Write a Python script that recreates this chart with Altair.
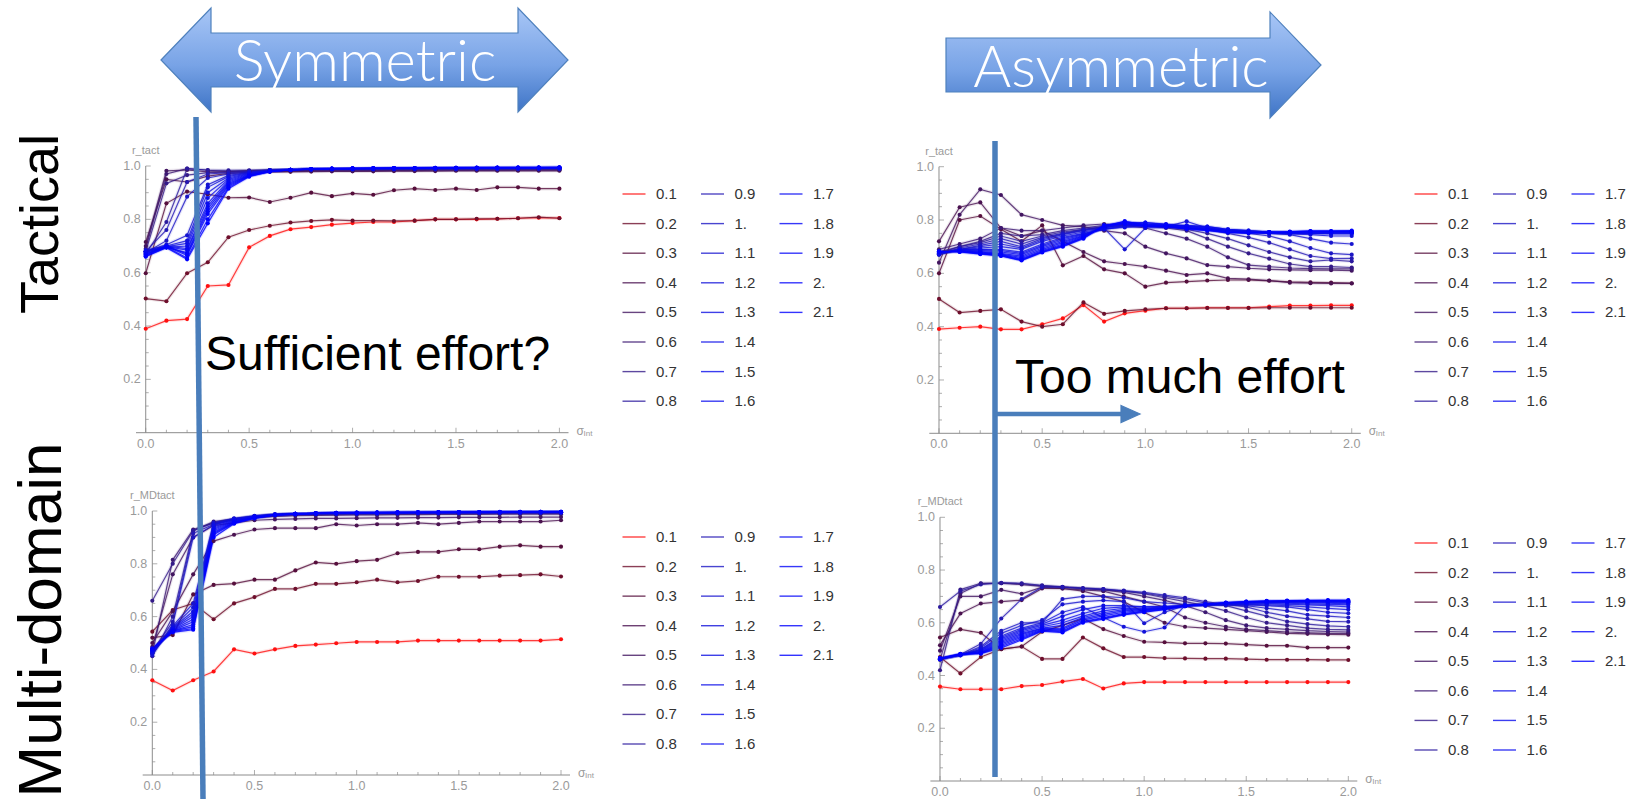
import altair as alt
import pandas as pd

# ---------------- data ----------------
X = [0.0, 0.1, 0.2, 0.3, 0.4, 0.5, 0.6, 0.7, 0.8, 0.9, 1.0,
     1.1, 1.2, 1.3, 1.4, 1.5, 1.6, 1.7, 1.8, 1.9, 2.0]

LABELS = ["0.1", "0.2", "0.3", "0.4", "0.5", "0.6", "0.7", "0.8", "0.9", "1.",
          "1.1", "1.2", "1.3", "1.4", "1.5", "1.6", "1.7", "1.8", "1.9", "2.", "2.1"]

COLORS = ["#ff1010", "#6e0f2c", "#560f3c", "#4a1250", "#421560", "#3c1872", "#341a88",
          "#2c1a9e", "#2418b4", "#1c16c4", "#1614d0", "#1212da", "#0e10e2", "#0c0ee8",
          "#0a0cec", "#080af0", "#0608f4", "#0406f7", "#0304fa", "#0202fc", "#0000ff"]

# Tactical, symmetric
tact_sym = [
    [0.39, 0.42, 0.426, 0.55, 0.554, 0.695, 0.738, 0.763, 0.771, 0.78, 0.786, 0.79, 0.79, 0.795, 0.80, 0.80, 0.80, 0.802, 0.804, 0.806, 0.805],
    [0.503, 0.493, 0.598, 0.639, 0.733, 0.76, 0.776, 0.788, 0.794, 0.798, 0.795, 0.795, 0.794, 0.795, 0.80, 0.80, 0.802, 0.802, 0.804, 0.808, 0.804],
    [0.598, 0.86, 0.904, 0.894, 0.881, 0.882, 0.865, 0.881, 0.90, 0.887, 0.897, 0.892, 0.909, 0.915, 0.91, 0.915, 0.91, 0.92, 0.92, 0.915, 0.915],
    [0.715, 0.95, 0.94, 0.962, 0.972, 0.976, 0.978, 0.978, 0.979, 0.98, 0.98, 0.98, 0.981, 0.981, 0.981, 0.982, 0.982, 0.982, 0.982, 0.982, 0.982],
    [0.70, 0.982, 0.985, 0.978, 0.978, 0.98, 0.981, 0.981, 0.982, 0.982, 0.982, 0.983, 0.983, 0.983, 0.984, 0.984, 0.984, 0.984, 0.984, 0.984, 0.984],
    [0.69, 0.97, 0.99, 0.984, 0.98, 0.982, 0.983, 0.984, 0.984, 0.985, 0.985, 0.985, 0.985, 0.986, 0.986, 0.986, 0.986, 0.986, 0.987, 0.987, 0.987],
    [0.68, 0.935, 0.966, 0.975, 0.978, 0.982, 0.984, 0.985, 0.985, 0.986, 0.986, 0.986, 0.987, 0.987, 0.987, 0.987, 0.988, 0.988, 0.988, 0.988, 0.988],
    [0.67, 0.79, 0.99, 0.985, 0.984, 0.984, 0.985, 0.986, 0.987, 0.987, 0.987, 0.988, 0.988, 0.988, 0.988, 0.989, 0.989, 0.989, 0.989, 0.989, 0.989],
    [0.68, 0.76, 0.94, 0.97, 0.975, 0.98, 0.985, 0.986, 0.987, 0.988, 0.988, 0.988, 0.989, 0.989, 0.989, 0.989, 0.99, 0.99, 0.99, 0.99, 0.99],
    [0.675, 0.72, 0.885, 0.955, 0.97, 0.978, 0.984, 0.986, 0.987, 0.988, 0.989, 0.989, 0.989, 0.99, 0.99, 0.99, 0.99, 0.99, 0.99, 0.991, 0.991],
    [0.68, 0.705, 0.74, 0.93, 0.965, 0.976, 0.984, 0.986, 0.988, 0.988, 0.989, 0.989, 0.99, 0.99, 0.99, 0.99, 0.991, 0.991, 0.991, 0.991, 0.991],
    [0.685, 0.70, 0.72, 0.92, 0.96, 0.975, 0.983, 0.986, 0.988, 0.989, 0.989, 0.99, 0.99, 0.99, 0.991, 0.991, 0.991, 0.991, 0.992, 0.992, 0.992],
    [0.68, 0.698, 0.71, 0.90, 0.955, 0.973, 0.983, 0.986, 0.988, 0.989, 0.99, 0.99, 0.99, 0.991, 0.991, 0.991, 0.991, 0.992, 0.992, 0.992, 0.992],
    [0.678, 0.695, 0.70, 0.88, 0.95, 0.972, 0.982, 0.986, 0.988, 0.989, 0.99, 0.99, 0.991, 0.991, 0.991, 0.992, 0.992, 0.992, 0.992, 0.992, 0.993],
    [0.676, 0.70, 0.69, 0.86, 0.945, 0.97, 0.982, 0.986, 0.988, 0.989, 0.99, 0.99, 0.991, 0.991, 0.992, 0.992, 0.992, 0.992, 0.993, 0.993, 0.993],
    [0.672, 0.698, 0.685, 0.85, 0.94, 0.968, 0.981, 0.986, 0.988, 0.989, 0.99, 0.991, 0.991, 0.991, 0.992, 0.992, 0.992, 0.993, 0.993, 0.993, 0.993],
    [0.67, 0.695, 0.675, 0.84, 0.935, 0.966, 0.98, 0.985, 0.988, 0.989, 0.99, 0.991, 0.991, 0.992, 0.992, 0.992, 0.993, 0.993, 0.993, 0.993, 0.994],
    [0.668, 0.70, 0.67, 0.83, 0.93, 0.965, 0.98, 0.985, 0.988, 0.989, 0.99, 0.991, 0.991, 0.992, 0.992, 0.993, 0.993, 0.993, 0.993, 0.994, 0.994],
    [0.665, 0.698, 0.665, 0.82, 0.925, 0.963, 0.98, 0.985, 0.988, 0.99, 0.99, 0.991, 0.992, 0.992, 0.992, 0.993, 0.993, 0.993, 0.994, 0.994, 0.994],
    [0.662, 0.696, 0.655, 0.80, 0.92, 0.962, 0.979, 0.985, 0.988, 0.99, 0.991, 0.991, 0.992, 0.992, 0.993, 0.993, 0.993, 0.994, 0.994, 0.994, 0.994],
    [0.66, 0.694, 0.65, 0.785, 0.915, 0.96, 0.979, 0.985, 0.988, 0.99, 0.991, 0.991, 0.992, 0.992, 0.993, 0.993, 0.994, 0.994, 0.994, 0.994, 0.995],
]

# Multi-domain, symmetric
md_sym = [
    [0.359, 0.32, 0.359, 0.392, 0.476, 0.46, 0.476, 0.489, 0.494, 0.499, 0.504, 0.504, 0.504, 0.509, 0.509, 0.509, 0.509, 0.509, 0.509, 0.509, 0.514],
    [0.543, 0.625, 0.65, 0.59, 0.65, 0.674, 0.705, 0.705, 0.724, 0.724, 0.73, 0.74, 0.73, 0.735, 0.751, 0.751, 0.751, 0.755, 0.757, 0.76, 0.752],
    [0.52, 0.53, 0.684, 0.72, 0.725, 0.74, 0.74, 0.775, 0.805, 0.80, 0.81, 0.815, 0.84, 0.845, 0.845, 0.855, 0.855, 0.865, 0.87, 0.865, 0.865],
    [0.50, 0.62, 0.76, 0.886, 0.91, 0.93, 0.935, 0.935, 0.935, 0.95, 0.945, 0.95, 0.95, 0.955, 0.95, 0.955, 0.96, 0.96, 0.96, 0.96, 0.965],
    [0.486, 0.76, 0.90, 0.945, 0.955, 0.965, 0.968, 0.97, 0.972, 0.972, 0.973, 0.974, 0.974, 0.975, 0.975, 0.976, 0.976, 0.976, 0.977, 0.977, 0.977],
    [0.46, 0.815, 0.93, 0.955, 0.968, 0.975, 0.98, 0.982, 0.983, 0.984, 0.985, 0.985, 0.986, 0.986, 0.987, 0.987, 0.987, 0.988, 0.988, 0.988, 0.988],
    [0.66, 0.80, 0.925, 0.96, 0.97, 0.978, 0.985, 0.987, 0.988, 0.989, 0.99, 0.99, 0.99, 0.991, 0.991, 0.991, 0.992, 0.992, 0.992, 0.992, 0.992],
    [0.45, 0.60, 0.925, 0.955, 0.968, 0.976, 0.984, 0.987, 0.988, 0.989, 0.99, 0.99, 0.991, 0.991, 0.991, 0.992, 0.992, 0.992, 0.993, 0.993, 0.993],
    [0.47, 0.58, 0.915, 0.95, 0.97, 0.98, 0.986, 0.988, 0.989, 0.99, 0.99, 0.991, 0.991, 0.992, 0.992, 0.992, 0.993, 0.993, 0.993, 0.993, 0.994],
    [0.46, 0.57, 0.90, 0.948, 0.968, 0.979, 0.986, 0.988, 0.989, 0.99, 0.991, 0.991, 0.992, 0.992, 0.992, 0.993, 0.993, 0.993, 0.994, 0.994, 0.994],
    [0.455, 0.565, 0.65, 0.955, 0.972, 0.982, 0.987, 0.989, 0.99, 0.991, 0.991, 0.992, 0.992, 0.993, 0.993, 0.993, 0.994, 0.994, 0.994, 0.994, 0.995],
    [0.46, 0.56, 0.635, 0.95, 0.97, 0.981, 0.987, 0.989, 0.99, 0.991, 0.992, 0.992, 0.993, 0.993, 0.993, 0.994, 0.994, 0.994, 0.995, 0.995, 0.995],
    [0.465, 0.558, 0.62, 0.945, 0.968, 0.98, 0.987, 0.989, 0.991, 0.991, 0.992, 0.993, 0.993, 0.993, 0.994, 0.994, 0.994, 0.995, 0.995, 0.995, 0.995],
    [0.468, 0.555, 0.61, 0.94, 0.966, 0.979, 0.986, 0.989, 0.991, 0.992, 0.992, 0.993, 0.993, 0.994, 0.994, 0.994, 0.995, 0.995, 0.995, 0.995, 0.996],
    [0.47, 0.553, 0.60, 0.935, 0.964, 0.978, 0.986, 0.989, 0.991, 0.992, 0.993, 0.993, 0.994, 0.994, 0.994, 0.995, 0.995, 0.995, 0.995, 0.996, 0.996],
    [0.472, 0.55, 0.59, 0.93, 0.962, 0.977, 0.986, 0.989, 0.991, 0.992, 0.993, 0.993, 0.994, 0.994, 0.995, 0.995, 0.995, 0.995, 0.996, 0.996, 0.996],
    [0.474, 0.548, 0.58, 0.925, 0.96, 0.976, 0.985, 0.989, 0.991, 0.992, 0.993, 0.994, 0.994, 0.994, 0.995, 0.995, 0.995, 0.996, 0.996, 0.996, 0.996],
    [0.475, 0.546, 0.57, 0.92, 0.958, 0.975, 0.985, 0.989, 0.991, 0.992, 0.993, 0.994, 0.994, 0.995, 0.995, 0.995, 0.996, 0.996, 0.996, 0.996, 0.997],
    [0.477, 0.545, 0.562, 0.915, 0.956, 0.974, 0.985, 0.988, 0.991, 0.993, 0.993, 0.994, 0.994, 0.995, 0.995, 0.996, 0.996, 0.996, 0.996, 0.997, 0.997],
    [0.478, 0.543, 0.555, 0.91, 0.954, 0.973, 0.984, 0.988, 0.991, 0.993, 0.994, 0.994, 0.995, 0.995, 0.995, 0.996, 0.996, 0.996, 0.997, 0.997, 0.997],
    [0.48, 0.54, 0.55, 0.90, 0.952, 0.972, 0.984, 0.988, 0.991, 0.993, 0.994, 0.994, 0.995, 0.995, 0.996, 0.996, 0.996, 0.997, 0.997, 0.997, 0.997],
]

# Tactical, asymmetric
tact_asym = [
    [0.391, 0.396, 0.40, 0.39, 0.39, 0.409, 0.431, 0.481, 0.419, 0.45, 0.46, 0.469, 0.469, 0.471, 0.471, 0.471, 0.475, 0.479, 0.479, 0.48, 0.48],
    [0.504, 0.453, 0.459, 0.465, 0.419, 0.40, 0.409, 0.491, 0.448, 0.459, 0.465, 0.469, 0.469, 0.47, 0.47, 0.47, 0.471, 0.471, 0.471, 0.471, 0.471],
    [0.60, 0.80, 0.815, 0.765, 0.72, 0.78, 0.63, 0.665, 0.615, 0.60, 0.55, 0.565, 0.569, 0.573, 0.575, 0.575, 0.572, 0.568, 0.566, 0.565, 0.563],
    [0.72, 0.848, 0.866, 0.77, 0.74, 0.76, 0.72, 0.68, 0.645, 0.635, 0.625, 0.61, 0.594, 0.60, 0.581, 0.578, 0.573, 0.565, 0.563, 0.562, 0.562],
    [0.64, 0.82, 0.915, 0.894, 0.82, 0.80, 0.78, 0.775, 0.76, 0.75, 0.70, 0.675, 0.656, 0.631, 0.625, 0.619, 0.615, 0.613, 0.612, 0.612, 0.61],
    [0.69, 0.71, 0.73, 0.77, 0.76, 0.76, 0.77, 0.78, 0.785, 0.78, 0.77, 0.75, 0.73, 0.70, 0.66, 0.631, 0.625, 0.62, 0.618, 0.617, 0.617],
    [0.68, 0.70, 0.72, 0.75, 0.74, 0.745, 0.76, 0.77, 0.78, 0.785, 0.78, 0.77, 0.76, 0.73, 0.70, 0.675, 0.655, 0.635, 0.625, 0.625, 0.622],
    [0.675, 0.70, 0.715, 0.74, 0.72, 0.74, 0.755, 0.765, 0.775, 0.78, 0.78, 0.775, 0.765, 0.75, 0.73, 0.705, 0.68, 0.66, 0.645, 0.65, 0.645],
    [0.67, 0.695, 0.71, 0.73, 0.71, 0.735, 0.75, 0.765, 0.775, 0.78, 0.78, 0.775, 0.77, 0.765, 0.75, 0.735, 0.715, 0.69, 0.665, 0.655, 0.656],
    [0.67, 0.69, 0.705, 0.72, 0.70, 0.73, 0.748, 0.762, 0.772, 0.778, 0.778, 0.775, 0.77, 0.765, 0.755, 0.75, 0.74, 0.72, 0.695, 0.675, 0.67],
    [0.672, 0.69, 0.70, 0.71, 0.695, 0.725, 0.745, 0.76, 0.77, 0.69, 0.77, 0.772, 0.77, 0.765, 0.76, 0.755, 0.75, 0.745, 0.73, 0.715, 0.71],
    [0.672, 0.688, 0.695, 0.70, 0.69, 0.72, 0.74, 0.755, 0.768, 0.772, 0.775, 0.775, 0.795, 0.77, 0.76, 0.755, 0.75, 0.748, 0.745, 0.74, 0.74],
    [0.675, 0.69, 0.69, 0.69, 0.68, 0.71, 0.735, 0.75, 0.765, 0.775, 0.78, 0.78, 0.78, 0.775, 0.765, 0.76, 0.755, 0.752, 0.75, 0.748, 0.748],
    [0.676, 0.688, 0.688, 0.685, 0.675, 0.705, 0.73, 0.748, 0.765, 0.78, 0.785, 0.78, 0.778, 0.775, 0.765, 0.76, 0.755, 0.752, 0.75, 0.75, 0.75],
    [0.678, 0.686, 0.685, 0.68, 0.67, 0.70, 0.725, 0.745, 0.77, 0.785, 0.79, 0.783, 0.778, 0.772, 0.762, 0.758, 0.755, 0.75, 0.75, 0.752, 0.752],
    [0.678, 0.685, 0.682, 0.675, 0.665, 0.695, 0.72, 0.742, 0.77, 0.79, 0.79, 0.785, 0.776, 0.77, 0.76, 0.756, 0.752, 0.75, 0.752, 0.754, 0.754],
    [0.68, 0.684, 0.68, 0.672, 0.66, 0.69, 0.715, 0.74, 0.772, 0.79, 0.785, 0.782, 0.775, 0.768, 0.758, 0.755, 0.752, 0.752, 0.754, 0.755, 0.755],
    [0.68, 0.683, 0.678, 0.67, 0.655, 0.685, 0.71, 0.738, 0.775, 0.795, 0.782, 0.78, 0.773, 0.765, 0.756, 0.753, 0.752, 0.754, 0.756, 0.756, 0.756],
    [0.682, 0.682, 0.676, 0.668, 0.652, 0.682, 0.706, 0.735, 0.778, 0.795, 0.78, 0.778, 0.77, 0.763, 0.755, 0.752, 0.753, 0.755, 0.757, 0.757, 0.757],
    [0.682, 0.681, 0.674, 0.666, 0.65, 0.68, 0.703, 0.733, 0.78, 0.79, 0.777, 0.776, 0.768, 0.762, 0.754, 0.752, 0.754, 0.756, 0.758, 0.758, 0.758],
    [0.683, 0.68, 0.672, 0.665, 0.648, 0.678, 0.70, 0.73, 0.78, 0.785, 0.775, 0.774, 0.766, 0.76, 0.753, 0.752, 0.755, 0.757, 0.759, 0.759, 0.76],
]

# Multi-domain, asymmetric
md_asym = [
    [0.358, 0.348, 0.348, 0.348, 0.36, 0.364, 0.377, 0.387, 0.351, 0.37, 0.375, 0.375, 0.375, 0.375, 0.375, 0.375, 0.375, 0.375, 0.375, 0.375, 0.375],
    [0.47, 0.408, 0.47, 0.50, 0.51, 0.463, 0.463, 0.544, 0.503, 0.47, 0.47, 0.466, 0.465, 0.464, 0.464, 0.462, 0.46, 0.46, 0.46, 0.459, 0.459],
    [0.544, 0.575, 0.562, 0.50, 0.51, 0.566, 0.59, 0.616, 0.576, 0.55, 0.528, 0.526, 0.522, 0.522, 0.521, 0.517, 0.513, 0.513, 0.506, 0.506, 0.506],
    [0.515, 0.635, 0.673, 0.68, 0.686, 0.73, 0.73, 0.72, 0.70, 0.68, 0.64, 0.60, 0.585, 0.58, 0.575, 0.57, 0.565, 0.56, 0.558, 0.556, 0.555],
    [0.494, 0.70, 0.70, 0.725, 0.71, 0.735, 0.73, 0.725, 0.72, 0.70, 0.68, 0.66, 0.62, 0.60, 0.585, 0.575, 0.57, 0.565, 0.562, 0.56, 0.56],
    [0.46, 0.711, 0.749, 0.75, 0.745, 0.738, 0.735, 0.73, 0.725, 0.715, 0.70, 0.685, 0.665, 0.64, 0.61, 0.59, 0.58, 0.575, 0.57, 0.567, 0.565],
    [0.42, 0.726, 0.75, 0.75, 0.748, 0.74, 0.735, 0.73, 0.725, 0.72, 0.71, 0.695, 0.68, 0.665, 0.645, 0.62, 0.60, 0.59, 0.58, 0.575, 0.573],
    [0.66, 0.72, 0.745, 0.752, 0.75, 0.742, 0.736, 0.732, 0.728, 0.72, 0.712, 0.70, 0.69, 0.675, 0.665, 0.645, 0.625, 0.605, 0.595, 0.588, 0.585],
    [0.46, 0.48, 0.52, 0.616, 0.69, 0.735, 0.735, 0.73, 0.728, 0.722, 0.715, 0.705, 0.695, 0.68, 0.67, 0.66, 0.64, 0.625, 0.615, 0.605, 0.604],
    [0.465, 0.478, 0.51, 0.57, 0.60, 0.60, 0.69, 0.70, 0.70, 0.695, 0.68, 0.675, 0.67, 0.67, 0.668, 0.665, 0.655, 0.645, 0.63, 0.625, 0.62],
    [0.462, 0.477, 0.505, 0.56, 0.59, 0.61, 0.67, 0.68, 0.685, 0.68, 0.598, 0.64, 0.665, 0.668, 0.67, 0.668, 0.665, 0.66, 0.65, 0.64, 0.636],
    [0.465, 0.476, 0.50, 0.55, 0.58, 0.60, 0.64, 0.66, 0.62, 0.585, 0.566, 0.582, 0.665, 0.665, 0.668, 0.67, 0.668, 0.665, 0.66, 0.655, 0.65],
    [0.463, 0.477, 0.498, 0.545, 0.575, 0.595, 0.625, 0.65, 0.665, 0.665, 0.66, 0.66, 0.665, 0.668, 0.67, 0.672, 0.672, 0.67, 0.668, 0.665, 0.66],
    [0.462, 0.478, 0.495, 0.54, 0.57, 0.59, 0.61, 0.635, 0.655, 0.66, 0.66, 0.662, 0.665, 0.668, 0.672, 0.674, 0.675, 0.674, 0.672, 0.67, 0.668],
    [0.462, 0.479, 0.493, 0.535, 0.565, 0.585, 0.60, 0.625, 0.645, 0.655, 0.655, 0.66, 0.665, 0.67, 0.673, 0.675, 0.677, 0.677, 0.676, 0.674, 0.672],
    [0.463, 0.479, 0.49, 0.53, 0.56, 0.58, 0.59, 0.62, 0.638, 0.65, 0.652, 0.658, 0.665, 0.67, 0.674, 0.676, 0.678, 0.679, 0.678, 0.677, 0.676],
    [0.463, 0.48, 0.488, 0.525, 0.555, 0.578, 0.58, 0.615, 0.632, 0.645, 0.65, 0.656, 0.664, 0.67, 0.675, 0.677, 0.679, 0.68, 0.68, 0.679, 0.678],
    [0.464, 0.48, 0.486, 0.52, 0.55, 0.575, 0.575, 0.61, 0.626, 0.64, 0.648, 0.655, 0.664, 0.67, 0.675, 0.678, 0.68, 0.681, 0.682, 0.681, 0.68],
    [0.464, 0.481, 0.485, 0.515, 0.545, 0.572, 0.57, 0.605, 0.62, 0.635, 0.645, 0.654, 0.663, 0.67, 0.676, 0.679, 0.681, 0.682, 0.683, 0.683, 0.682],
    [0.465, 0.481, 0.484, 0.51, 0.54, 0.57, 0.566, 0.603, 0.617, 0.632, 0.642, 0.652, 0.663, 0.67, 0.676, 0.68, 0.682, 0.683, 0.684, 0.684, 0.684],
    [0.465, 0.482, 0.483, 0.505, 0.535, 0.568, 0.563, 0.60, 0.614, 0.63, 0.64, 0.65, 0.663, 0.67, 0.677, 0.68, 0.683, 0.684, 0.685, 0.686, 0.686],
]

Y_MAJOR = [0.2, 0.4, 0.6, 0.8, 1.0]
Y_LABELS = ["0.2", "0.4", "0.6", "0.8", "1.0"]
Y_MINOR = [0.05, 0.1, 0.15, 0.25, 0.3, 0.35, 0.45, 0.5, 0.55, 0.65, 0.7, 0.75, 0.85, 0.9, 0.95]
X_MAJOR = [0.0, 0.5, 1.0, 1.5, 2.0]
X_LABELS = ["0.0", "0.5", "1.0", "1.5", "2.0"]
X_MINOR = [0.1, 0.2, 0.3, 0.4, 0.6, 0.7, 0.8, 0.9, 1.1, 1.2, 1.3, 1.4, 1.6, 1.7, 1.8, 1.9]
X_EXTENT = [-0.047, 2.044]

# ---------------- layout (pixels) ----------------
W, H = 1633, 799
AX = "#8c8c8c"
LAB = "#9a9a9a"
FONT = "Liberation Sans"

PANELS = [
    dict(series=tact_sym, title="r_tact", xr=[136.0, 568.5], yr=[432.7, 166.0], x0=145.7,
         leg_x=[634, 791], leg_y=[194, 401.2]),
    dict(series=md_sym, title="r_MDtact", xr=[142.7, 570.0], yr=[775.0, 511.0], x0=152.3,
         leg_x=[634, 791], leg_y=[537, 744]),
    dict(series=tact_asym, title="r_tact", xr=[929.3, 1360.8], yr=[433.3, 166.7], x0=939.0,
         leg_x=[1426, 1583], leg_y=[194, 401.2]),
    dict(series=md_asym, title="r_MDtact", xr=[930.4, 1357.3], yr=[781.0, 517.3], x0=940.0,
         leg_x=[1426, 1583], leg_y=[543, 750]),
]

color = alt.Color("s:N", scale=alt.Scale(domain=LABELS, range=COLORS), legend=None)
one = pd.DataFrame({"a": [0]})


def make_panel(p):
    rows = []
    for lab, ys in zip(LABELS, p["series"]):
        for xv, yv in zip(X, ys):
            rows.append({"x": xv, "y": yv, "s": lab})
    df = pd.DataFrame(rows)
    xs = alt.Scale(domain=X_EXTENT, range=p["xr"], nice=False, zero=False)
    ys = alt.Scale(domain=[0, 1], range=p["yr"], nice=False, zero=False)

    def enc(xf="x:Q", yf="y:Q"):
        return dict(x=alt.X(xf, scale=xs, axis=None), y=alt.Y(yf, scale=ys, axis=None))

    base = alt.Chart(df)
    halo = base.mark_line(strokeWidth=3.5, opacity=0.10).encode(**enc(), color=color)
    line = base.mark_line(strokeWidth=1.2, opacity=0.8).encode(**enc(), color=color)
    pts = base.mark_circle(size=17, opacity=1).encode(**enc(), color=color)

    # axis lines
    xdom = alt.Chart(pd.DataFrame({"x": [X_EXTENT[0]], "x2": [X_EXTENT[1]], "y": [0.0]})).mark_rule(
        color=AX, strokeWidth=1).encode(**enc(), x2="x2:Q")
    ydom = alt.Chart(pd.DataFrame({"x": [0.0], "y": [0.0], "y2": [1.0]})).mark_rule(
        color=AX, strokeWidth=1).encode(**enc(), y2="y2:Q")

    def yticks(vals, size):
        d = pd.DataFrame({"x": [0.0] * len(vals), "y": vals})
        return alt.Chart(d).mark_tick(orient="horizontal", size=size, thickness=1, color=AX,
                                      xOffset=size / 2).encode(**enc())

    def xticks(vals, size):
        d = pd.DataFrame({"x": vals, "y": [0.0] * len(vals)})
        return alt.Chart(d).mark_tick(orient="vertical", size=size, thickness=1, color=AX,
                                      yOffset=-size / 2).encode(**enc())

    ylab = alt.Chart(pd.DataFrame({"x": [0.0] * 5, "y": Y_MAJOR, "t": Y_LABELS})).mark_text(
        align="right", baseline="middle", dx=-5, font=FONT, fontSize=12.5, color=LAB).encode(
        **enc(), text="t:N")
    xlab = alt.Chart(pd.DataFrame({"x": X_MAJOR, "y": [0.0] * 5, "t": X_LABELS})).mark_text(
        align="center", baseline="top", dy=5, font=FONT, fontSize=12.5, color=LAB).encode(
        **enc(), text="t:N")

    ytitle = alt.Chart(one).mark_text(font=FONT, fontSize=11, color=LAB, align="center",
                                      baseline="alphabetic").encode(
        x=alt.value(p["x0"]), y=alt.value(p["yr"][1] - 12), text=alt.value(p["title"]))
    sig = alt.Chart(one).mark_text(font=FONT, fontSize=12, color=LAB, align="left",
                                   baseline="middle").encode(
        x=alt.value(p["xr"][1] + 8), y=alt.value(p["yr"][0] - 2), text=alt.value("σ"))
    sub = alt.Chart(one).mark_text(font=FONT, fontSize=8, color=LAB, align="left",
                                   baseline="middle").encode(
        x=alt.value(p["xr"][1] + 15), y=alt.value(p["yr"][0] + 1), text=alt.value("Int"))

    panel = alt.layer(xdom, ydom, yticks(Y_MAJOR, 5), yticks(Y_MINOR, 3), xticks(X_MAJOR, 5),
                      xticks(X_MINOR, 3), ylab, xlab, halo, line, pts)

    # legend (3 columns, column-major)
    leg = pd.DataFrame({"s": LABELS,
                        "col": [i // 8 for i in range(len(LABELS))],
                        "row": [i % 8 for i in range(len(LABELS))]})
    lx = alt.Scale(domain=[0, 2], range=p["leg_x"], nice=False, zero=False)
    ly = alt.Scale(domain=[0, 7], range=p["leg_y"], nice=False, zero=False)
    leg_line = alt.Chart(leg).mark_tick(orient="horizontal", size=23, thickness=1.4,
                                        opacity=0.8).encode(
        x=alt.X("col:Q", scale=lx, axis=None), y=alt.Y("row:Q", scale=ly, axis=None), color=color)
    leg_text = alt.Chart(leg).mark_text(align="left", baseline="middle", dx=22, font=FONT,
                                        fontSize=15, color="#333333").encode(
        x=alt.X("col:Q", scale=lx, axis=None), y=alt.Y("row:Q", scale=ly, axis=None), text="s:N")
    legend = alt.layer(leg_line, leg_text)
    return [panel, legend, ytitle, sig, sub]


layers = []
for p in PANELS:
    layers += make_panel(p)

# ---------------- annotations ----------------
px = alt.Scale(domain=[0, W], range=[0, W], nice=False, zero=False)
py = alt.Scale(domain=[0, H], range=[0, H], nice=False, zero=False)

sym_arrow = pd.DataFrame({
    "o": list(range(10)),
    "px": [161, 211, 211, 518, 518, 568, 518, 518, 211, 211],
    "py": [60, 8, 33, 33, 8, 60, 112, 87, 87, 112],
})
asym_arrow = pd.DataFrame({
    "o": list(range(7)),
    "px": [946, 1270, 1270, 1321, 1270, 1270, 946],
    "py": [38, 38, 12, 65, 118, 92, 92],
})
head = pd.DataFrame({"o": [0, 1, 2], "px": [1121, 1140, 1121], "py": [405.5, 414, 422.5]})

grad = {"gradient": "linear", "x1": 0, "y1": 0, "x2": 0, "y2": 1,
        "stops": [{"offset": 0, "color": "#a8c6f6"}, {"offset": 0.55, "color": "#78a3e6"},
                  {"offset": 1, "color": "#3e74c6"}]}


def polygon(df, fill, stroke):
    return alt.Chart(df).mark_line(interpolate="linear-closed", strokeWidth=1.2).encode(
        x=alt.X("px:Q", scale=px, axis=None), y=alt.Y("py:Q", scale=py, axis=None),
        order=alt.Order("o:Q"), fill=alt.value(fill), stroke=alt.value(stroke))


def text(t, x, y, size, color="black", font=FONT, align="left", angle=0, weight="normal",
         baseline="alphabetic"):
    return alt.Chart(one).mark_text(font=font, fontSize=size, color=color, align=align,
                                    angle=angle, fontWeight=weight, baseline=baseline).encode(
        x=alt.value(x), y=alt.value(y), text=alt.value(t))


def seg(x1, y1, x2, y2, w):
    return alt.Chart(one).mark_rule(strokeWidth=w, color="#4a7ebb").encode(
        x=alt.value(x1), y=alt.value(y1), x2=alt.value(x2), y2=alt.value(y2))


layers += [
    polygon(sym_arrow, grad, "#4f81bd"),
    polygon(asym_arrow, grad, "#4f81bd"),
    text("Symmetric", 365, 81, 58, color="white", font="Lato", align="center", weight=300),
    text("Asymmetric", 1121, 87, 58, color="white", font="Lato", align="center", weight=300),
    seg(196, 117, 203, 799, 5.5),
    seg(995, 141, 995, 777, 5.5),
    seg(995, 414, 1124, 414, 4.5),
    polygon(head, "#4a7ebb", "#4a7ebb"),
    text("Sufficient effort?", 205, 370, 48),
    text("Too much effort", 1015, 393, 48),
    text("Tactical", 42, 224, 54, align="center", angle=270, baseline="middle"),
    text("Multi-domain", 42, 620, 62, align="center", angle=270, baseline="middle"),
]

chart = alt.layer(*layers).resolve_scale(x="independent", y="independent").properties(
    width=W, height=H, autosize=alt.AutoSizeParams(type="none"), padding=0
).configure_view(stroke=None)

chart.save("out.html", embed_options={"renderer": "svg", "actions": False})
